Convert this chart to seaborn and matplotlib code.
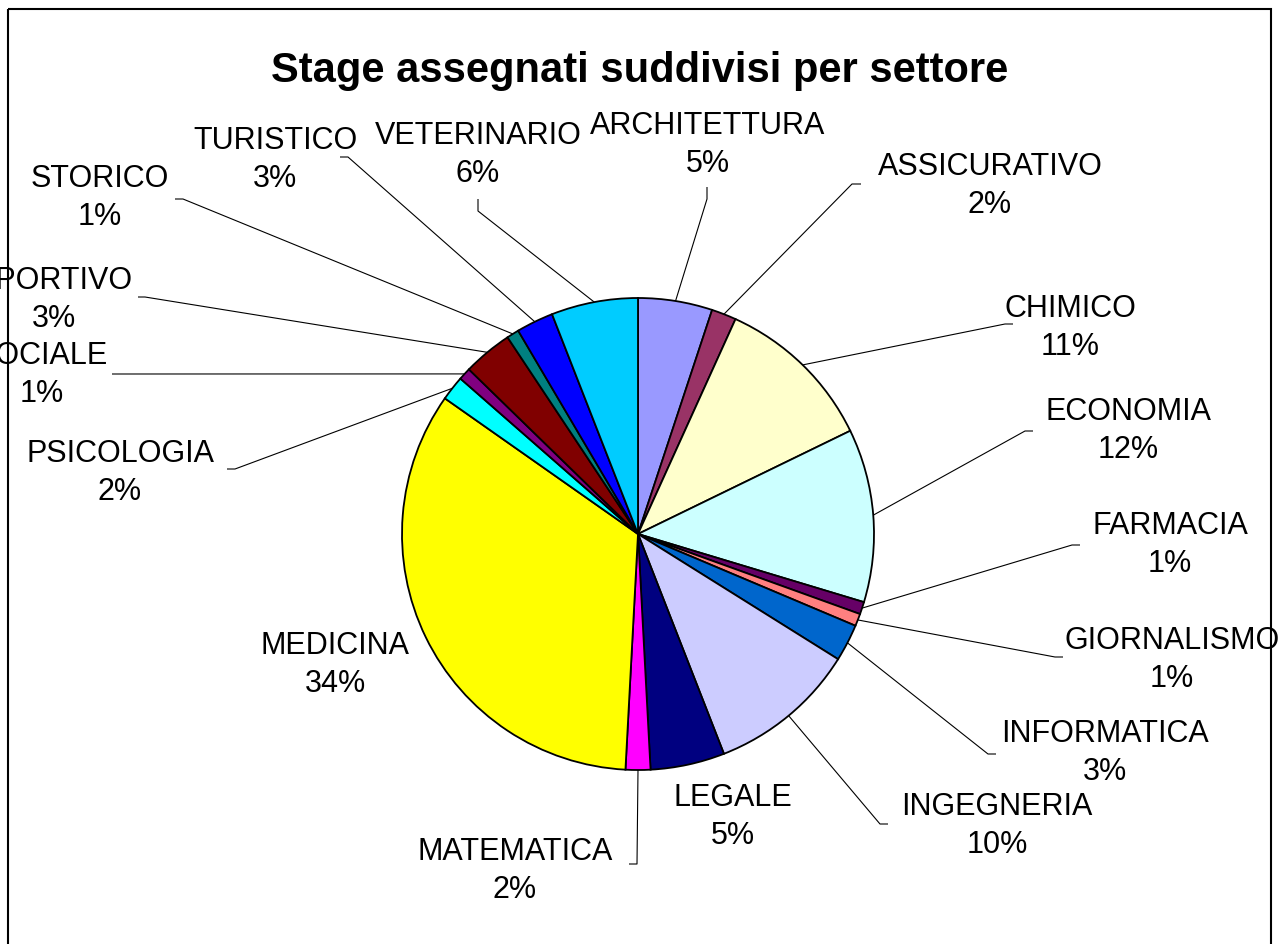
import numpy as np
import matplotlib.pyplot as plt
import seaborn as sns
from matplotlib.patches import Rectangle

# Stage assigned per sector (counts)
sectors = ["ARCHITETTURA", "ASSICURATIVO", "CHIMICO", "ECONOMIA", "FARMACIA",
           "GIORNALISMO", "INFORMATICA", "INGEGNERIA", "LEGALE", "MATEMATICA",
           "MEDICINA", "PSICOLOGIA", "SOCIALE", "SPORTIVO", "STORICO",
           "TURISTICO", "VETERINARIO"]
counts = [6, 2, 13, 14, 1, 1, 3, 12, 6, 2, 40, 2, 1, 4, 1, 3, 7]
colors = ["#9999FF", "#993366", "#FFFFCC", "#CCFFFF", "#660066", "#FF8080",
          "#0066CC", "#CCCCFF", "#000080", "#FF00FF", "#FFFF00", "#00FFFF",
          "#800080", "#800000", "#008080", "#0000FF", "#00CCFF"]
title = "Stage assegnati suddivisi per settore"

# label layout in pixels (text centre) and leader line bend / end
label_xy = [(708, 145), (990, 186), (1070, 328), (1128, 431), (1170, 545),
            (1172, 660), (1105, 753), (997, 826), (733, 817), (515, 871),
            (335, 665), (120, 473), (42, 375), (54, 300), (100, 198),
            (275, 160), (478, 155)]
leaders = [((707, 200), (707, 188)), ((852, 185), (861, 185)),
           ((1005, 325), (1013, 325)), ((1025, 432), (1033, 432)),
           ((1072, 546), (1080, 546)), ((1055, 658), (1063, 658)),
           ((988, 755), (996, 755)), ((880, 825), (888, 825)),
           None, ((637, 865), (629, 865)), None,
           ((235, 470), (227, 470)), ((118, 375), (112, 375)),
           ((145, 298), (138, 298)), ((183, 200), (175, 200)),
           ((348, 158), (340, 158)), ((478, 212), (478, 200))]

sns.set_theme(style="white")
plt.rcParams['font.family'] = ['Liberation Sans', 'DejaVu Sans']
plt.rcParams['text.color'] = 'black'

W, H = 1287, 945
fig = plt.figure(figsize=(W / 100, H / 100), dpi=100)
ax = fig.add_axes([0, 0, 1, 1])

cx, cy, r = 638, 535, 236
# y axis is inverted, so counterclock in data = clockwise on screen
wedges, _ = ax.pie(counts, colors=colors, startangle=-90, counterclock=True,
                   center=(cx, cy), radius=r, frame=True,
                   wedgeprops=dict(edgecolor="black", linewidth=1.3))
ax.set_xlim(0, W)
ax.set_ylim(H, 0)
ax.set_aspect("equal")
ax.axis("off")

total = sum(counts)
cum = np.cumsum([0] + counts)
for i, name in enumerate(sectors):
    pct = round(100 * counts[i] / total)
    x, y = label_xy[i]
    ax.text(x, y, f"{name}\n{pct}%", ha="center", va="center",
            multialignment="center", fontsize=22, linespacing=1.36,
            color="black")
    if leaders[i] is not None:
        mid = np.deg2rad(-90 + 360 * (cum[i] + counts[i] / 2) / total)
        ex, ey = cx + r * np.cos(mid), cy + r * np.sin(mid)
        (bx, by), (tx, ty) = leaders[i]
        ax.plot([ex, bx, tx], [ey, by, ty], color="black", lw=0.8,
                solid_capstyle="butt")

fig.text(0.497, 1 - 71 / H, title, ha="center", va="center",
         fontsize=30, fontweight="bold", color="black")

ax.add_patch(Rectangle((8, 10), 1263, 1000, fill=False, edgecolor="black",
                       lw=1.5, clip_on=False))

fig.savefig("out.png", dpi=100, facecolor="white")
